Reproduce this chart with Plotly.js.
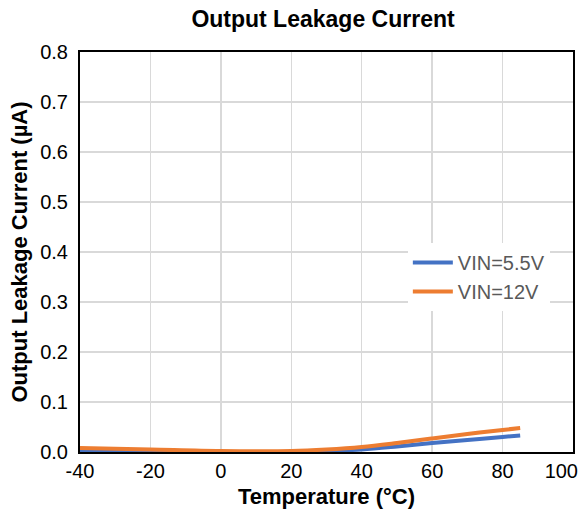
<!DOCTYPE html>
<html>
<head>
<meta charset="utf-8">
<script src="https://cdn.plot.ly/plotly-3.0.1.min.js"></script>
<style>html,body{margin:0;padding:0;background:#fff;}#chart{width:582px;height:516px;}</style>
</head>
<body>
<div id="chart"></div>
<script>
var temperature = [-40, -20, 0, 20, 30, 40, 50, 60, 70, 80, 85];
var vin55 = [0.002, 0.001, 0.0, 0.0, 0.002, 0.005, 0.011, 0.018, 0.024, 0.030, 0.033];
var vin12 = [0.008, 0.005, 0.002, 0.002, 0.005, 0.010, 0.018, 0.027, 0.036, 0.044, 0.048];
var seriesNames = ['VIN=5.5V', 'VIN=12V'];
var xTicks = [-40, -20, 0, 20, 40, 60, 80, 100];
var yTicks = [0, 0.1, 0.2, 0.3, 0.4, 0.5, 0.6, 0.7, 0.8];
var xMain = xTicks.slice(0, -1);
var xLast = xTicks.slice(-1);

var traces = [
  {x: temperature, y: vin55, name: seriesNames[0], mode: 'lines', line: {color: '#4472C4', width: 4, shape: 'spline'}},
  {x: temperature, y: vin12, name: seriesNames[1], mode: 'lines', line: {color: '#ED7D31', width: 4, shape: 'spline'}}
];
var font = {family: 'Liberation Sans, Arial, sans-serif', color: '#000'};
var layout = {
  width: 582, height: 516,
  margin: {l: 80, r: 9, t: 52, b: 64},
  paper_bgcolor: '#fff', plot_bgcolor: '#fff',
  font: font,
  title: {text: '<b>Output Leakage Current</b>', font: {family: font.family, size: 23, color: '#000'}, x: 0.555, xanchor: 'center', y: 0.978, yanchor: 'top'},
  xaxis: {
    range: [-40, 100], tickvals: xTicks, ticktext: xMain.map(String).concat(['']),
    showgrid: true, gridcolor: '#d9d9d9', gridwidth: 1.5, zeroline: false,
    showline: true, linecolor: '#000', linewidth: 2, mirror: true,
    ticks: '', tickfont: {size: 20, color: '#000'},
    title: {text: '<b>Temperature (°C)</b>', font: {size: 22, color: '#000'}, standoff: 8}
  },
  xaxis2: {
    overlaying: 'x', side: 'bottom', matches: 'x', range: [-40, 100],
    tickvals: xLast, ticktext: xLast.map(String),
    showgrid: false, zeroline: false, showline: false,
    ticks: '', tickfont: {size: 20, color: '#000'},
    ticklabelposition: 'outside left', ticklabelshift: 5, ticklabelstandoff: 5
  },
  yaxis: {
    range: [0, 0.8], tickvals: yTicks, ticktext: yTicks.map(function(v){return v.toFixed(1);}),
    showgrid: true, gridcolor: '#d9d9d9', gridwidth: 1.5, zeroline: false,
    showline: true, linecolor: '#000', linewidth: 2, mirror: true,
    ticks: '', tickfont: {size: 20, color: '#000'}, ticklabelstandoff: 6,
    title: {text: '<b>Output Leakage Current (µA)</b>', font: {size: 22, color: '#000'}, standoff: 6}
  },
  showlegend: true,
  legend: {x: 0.665, y: 0.5225, xanchor: 'left', yanchor: 'top', bgcolor: '#fff', font: {size: 20, color: '#595959'}, tracegroupgap: 0, itemwidth: 40}
};
traces.push({x: xLast, y: [null], xaxis: 'x2', yaxis: 'y', mode: 'lines', showlegend: false, hoverinfo: 'skip'});
Plotly.newPlot('chart', traces, layout, {staticPlot: true, displayModeBar: false});
</script>
</body>
</html>
